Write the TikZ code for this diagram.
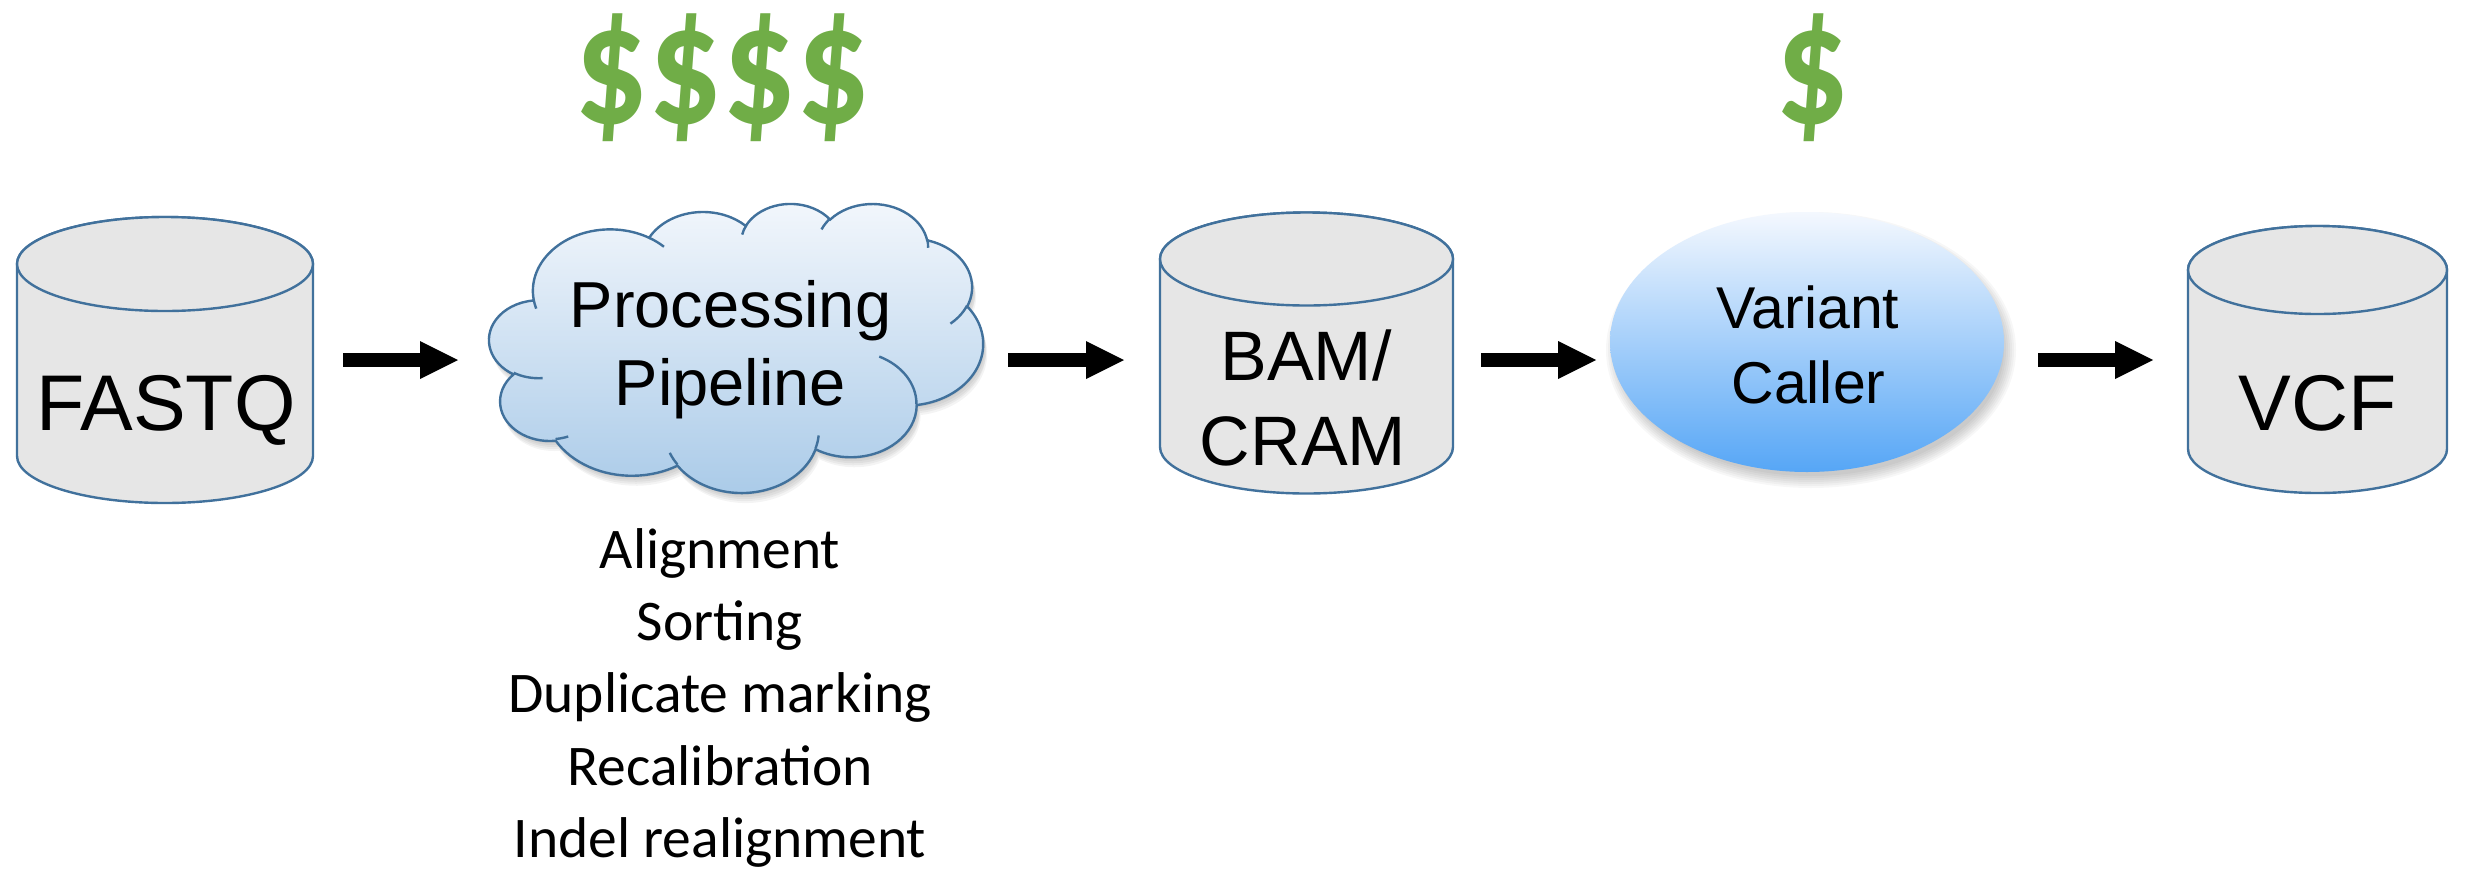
\documentclass[tikz,border=0pt]{standalone}
\usepackage{fontspec}
\usepackage{graphicx}
\setmainfont{Liberation Sans}
\newfontfamily\calibri{Carlito}
\usetikzlibrary{arrows.meta,shapes.geometric}

\definecolor{drumfill}{RGB}{230,230,230}
\definecolor{rim}{RGB}{65,113,156}
\definecolor{cloudtop}{RGB}{243,247,252}
\definecolor{cloudbot}{RGB}{169,202,232}
\definecolor{vctop}{RGB}{244,248,254}
\definecolor{vcbot}{RGB}{86,166,246}
\definecolor{cash}{RGB}{112,173,71}

% database drum: centre x, x radius, top-rim y, bottom-rim y, rim y radius
\newcommand\drum[5]{%
  \path[drumbody] ({#1-#2},#3) -- ({#1-#2},#4)
    arc[start angle=180,end angle=360,x radius=#2pt,y radius=#5pt]
    -- ({#1+#2},#3)
    arc[start angle=0,end angle=180,x radius=#2pt,y radius=#5pt] -- cycle;
  \path[drumbody] (#1,#3) ellipse[x radius=#2pt,y radius=#5pt];
}

% outline of the cloud, in a 432 x 432 frame
\newcommand\cloudrim{(39.00,143.70)
  arc[start angle=172.26,end angle=300.36,x radius=67.53,y radius=91.90]
  arc[start angle=-152.03,end angle=-45.46,x radius=53.33,y radius=72.67]
  arc[start angle=-153.49,end angle=-37.31,x radius=43.65,y radius=59.45]
  arc[start angle=-139.71,end angle=-10.21,x radius=48.57,y radius=65.95]
  arc[start angle=-74.77,end angle=23.21,x radius=53.33,y radius=72.73]
  arc[start angle=-37.52,end angle=81.86,x radius=67.75,y radius=92.20]
  arc[start angle=0.46,end angle=121.98,x radius=57.85,y radius=78.67]
  arc[start angle=16.85,end angle=146.21,x radius=67.52,y radius=92.15]
  arc[start angle=58.98,end angle=149.77,x radius=77.20,y radius=105.43]
  arc[start angle=83.31,end angle=223.11,x radius=43.60,y radius=59.18]
  arc[start angle=120.35,end angle=264.11,x radius=43.45,y radius=59.45]
  -- cycle}

% tall dollar signs
\newcommand\tallcash[1]{\scalebox{1}[1.17]{#1}}

\tikzset{
  drumbody/.style={fill=drumfill,draw=rim,line width=2.4pt},
  hitbox/.style={inner sep=0pt,outer sep=0pt,draw=none},
  bigtext/.style={anchor=base,inner sep=0pt,font=\fontsize{79pt}{92pt}\selectfont},
  midtext/.style={anchor=base,inner sep=0pt,font=\fontsize{70pt}{84pt}\selectfont},
  cloudtext/.style={anchor=base,inner sep=0pt,font=\fontsize{65pt}{78pt}\selectfont},
  vctext/.style={anchor=base,inner sep=0pt,font=\fontsize{59pt}{72pt}\selectfont},
  listline/.style={anchor=base,inner sep=0pt,font=\calibri\fontsize{57.5pt}{72pt}\selectfont},
  costmark/.style={anchor=base,inner sep=0pt,text=cash,font=\calibri\bfseries\fontsize{146pt}{160pt}\selectfont},
  flow/.style={line width=14pt,-{Triangle[length=38pt,width=38pt,line width=0pt]}},
}

\begin{document}
\begin{tikzpicture}[x=1pt,y=-1pt]
\useasboundingbox (0,0) rectangle (2465,868);
\fill[white] (0,0) rectangle (2465,868);

% cost markers
\node[costmark] (cost4) at (722,123) {\tallcash{\$\$\$\$}};
\node[costmark] (cost1) at (1812,123) {\tallcash{\$}};

% FASTQ drum
\drum{165}{148}{264}{456}{47}
\node[hitbox,minimum width=296pt,minimum height=285pt] (fastq) at (165,359.5) {};
\node[bigtext] (fastqtxt) at (166,430) {FASTQ};

% processing cloud
\begin{scope}[shift={(489,203)},x=1.143519pt,y=-0.668981pt]
  \foreach \dx/\dy in {1/2,2/4,3/6,3/8,4/10}
    \fill[black,opacity=0.045,xshift=\dx pt,yshift=-\dy pt] \cloudrim;
  \path[draw=rim,line width=2.4pt,top color=cloudtop,bottom color=cloudbot] \cloudrim;
  \begin{scope}[draw=rim,line width=2.4pt]
    \draw (46.93,261.77) arc[start angle=85.55,end angle=120.35,x radius=43.45,y radius=59.45];
    \draw (69.28,348.99) arc[start angle=68.24,end angle=83.31,x radius=43.60,y radius=59.18];
    \draw (164.78,390.90) arc[start angle=146.21,end angle=158.48,x radius=67.52,y radius=92.15];
    \draw (288.27,347.51) arc[start angle=4.74,end angle=16.85,x radius=67.52,y radius=92.15];
    \draw (341.29,229.54) arc[start angle=-64.03,end angle=0.46,x radius=57.85,y radius=78.67];
    \draw (417.98,153.54) arc[start angle=23.21,end angle=49.65,x radius=53.33,y radius=72.73];
    \draw (383.24,54.26) arc[start angle=-10.21,end angle=0.82,x radius=48.57,y radius=65.95];
    \draw (290.78,39.52) arc[start angle=-156.29,end angle=-139.71,x radius=48.57,y radius=65.95];
    \draw (221.41,47.20) arc[start angle=-167.73,end angle=-153.49,x radius=43.65,y radius=59.45];
    \draw (140.00,51.92) arc[start angle=-59.64,end angle=-45.74,x radius=67.53,y radius=91.90];
    \draw (41.27,157.89) arc[start angle=163.20,end angle=172.26,x radius=67.53,y radius=91.90];
  \end{scope}
\end{scope}
\node[hitbox,minimum width=494pt,minimum height=289pt] (cloud) at (736,347.5) {};
\node[cloudtext] (procA) at (730.5,327) {Processing};
\node[cloudtext] (procB) at (730.5,405) {Pipeline};

% steps of the pipeline
\node[listline] (stepA) at (720,568) {Alignment};
\node[listline] (stepB) at (720,640) {Sorting};
\node[listline] (stepC) at (720,712) {Duplicate marking};
\node[listline] (stepD) at (720,785) {Recalibration};
\node[listline] (stepE) at (720,857) {Indel realignment};

% BAM/CRAM drum
\drum{1306.5}{146.5}{259}{447}{46.5}
\node[hitbox,minimum width=293pt,minimum height=281pt] (bam) at (1306.5,352.5) {};
\node[midtext] (bamA) at (1306,380) {BAM/};
\node[midtext] (bamB) at (1303,465) {CRAM};

% variant caller
\foreach \d in {-4,-2,...,8}
  \fill[black,opacity=0.03] (1811,350) ellipse[x radius={(197+\d)*1pt},y radius={(130+\d)*1pt}];
\node[hitbox,ellipse,minimum width=394pt,minimum height=260pt,top color=vctop,bottom color=vcbot] (vc) at (1807,342) {};
\node[vctext] (vcA) at (1808,328) {Variant};
\node[vctext] (vcB) at (1808.5,403) {Caller};

% VCF drum
\drum{2317.5}{129.5}{270}{449}{44}
\node[hitbox,minimum width=259pt,minimum height=267pt] (vcf) at (2317.5,359.5) {};
\node[bigtext] (vcftxt) at (2317.5,430) {VCF};

% flow arrows
\coordinate (lane) at (0,360);
\draw[flow,shorten <=30pt,shorten >=31pt] (fastq.east |- lane) -- (cloud.west |- lane);
\draw[flow,shorten <=25pt,shorten >=36pt] (cloud.east |- lane) -- (bam.west |- lane);
\draw[flow,shorten <=28pt,shorten >=14pt] (bam.east |- lane) -- (vc.west |- lane);
\draw[flow,shorten <=34pt,shorten >=35pt] (vc.east |- lane) -- (vcf.west |- lane);
\end{tikzpicture}
\end{document}
